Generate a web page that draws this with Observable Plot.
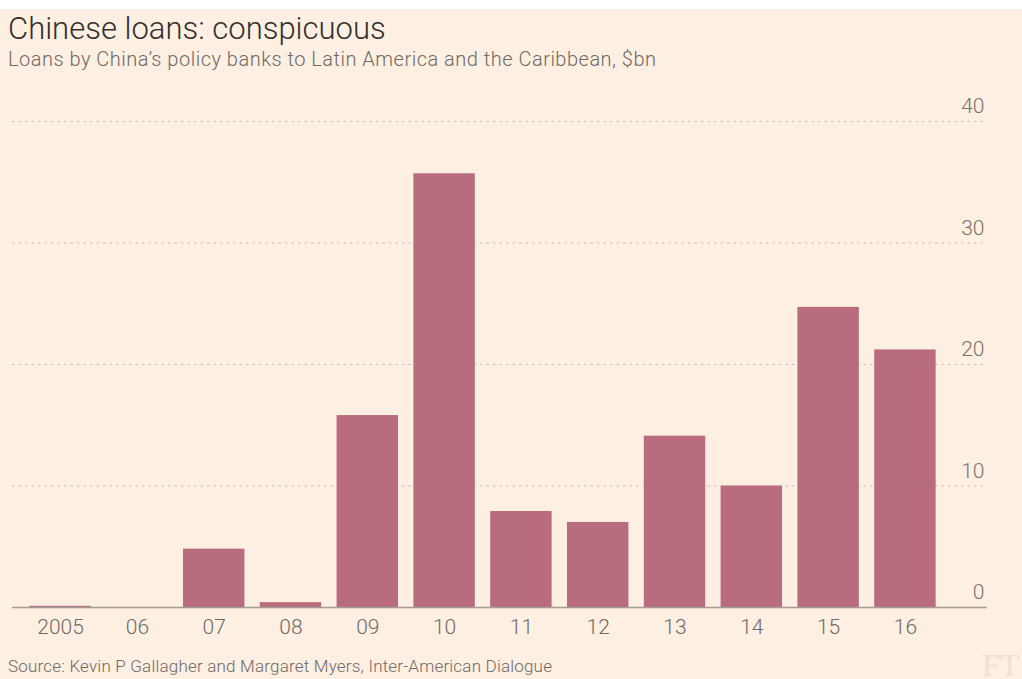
<!DOCTYPE html>
<html>
<head>
<meta charset="utf-8">
<script src="https://cdn.jsdelivr.net/npm/d3@7"></script>
<script src="https://cdn.jsdelivr.net/npm/@observablehq/plot@0.6"></script>
<style>
  html, body { margin: 0; padding: 0; background: #ffffff; }
  body { width: 1022px; height: 679px; position: relative; overflow: hidden; font-family: Roboto, "Liberation Sans", sans-serif; }
  #panel { position: absolute; left: 0; top: 9px; width: 1022px; height: 670px; background: #fdefe1; }
  #title { position: absolute; left: 8px; top: 1px; font-size: 31px; font-weight: 300; color: #33302e; white-space: nowrap; letter-spacing: 0px; }
  #subtitle { position: absolute; left: 8px; top: 38px; font-size: 20px; font-weight: 300; color: #6f6a66; white-space: nowrap; letter-spacing: 0.5px; }
  #chart { position: absolute; left: 0; top: 91px; }
  #source { position: absolute; left: 8px; top: 647px; font-size: 17px; font-weight: 300; color: #6f6a66; white-space: nowrap; letter-spacing: 0.2px; }
  #logo { position: absolute; left: 982px; top: 640px; font-family: "Liberation Serif", "DejaVu Serif", serif; font-size: 32px; line-height: 32px; color: #ece1d4; white-space: nowrap; }
</style>
</head>
<body>
<div id="panel">
  <div id="title">Chinese loans: conspicuous</div>
  <div id="subtitle">Loans by China’s policy banks to Latin America and the Caribbean, $bn</div>
  <div id="chart"></div>
  <div id="source">Source: Kevin P Gallagher and Margaret Myers, Inter-American Dialogue</div>
  <div id="logo">FT</div>
</div>
<script>
const years = ["2005", "2006", "2007", "2008", "2009", "2010", "2011", "2012", "2013", "2014", "2015", "2016"];
const yearLabels = ["2005", "06", "07", "08", "09", "10", "11", "12", "13", "14", "15", "16"];
const loans = [0.1, 0, 4.8, 0.4, 15.8, 35.7, 7.9, 7.0, 14.1, 10.0, 24.7, 21.2];
const yTicks = [0, 10, 20, 30, 40];
const gridTicks = [10, 20, 30, 40];

const data = years.map((y, i) => ({year: y, value: loans[i]}));
const labelOf = new Map(years.map((y, i) => [y, yearLabels[i]]));

const W = 1022, H = 540;
const chart = Plot.plot({
  width: W,
  height: H,
  marginTop: 21,
  marginBottom: 33,
  marginLeft: 12,
  marginRight: 35,
  style: {background: "transparent", fontFamily: "Roboto, sans-serif", fontWeight: 300, overflow: "visible"},
  x: {domain: years, range: [14, 951], paddingInner: 0.2, paddingOuter: 0.2, round: false, label: null},
  y: {domain: [0, 40], label: null},
  marks: [
    Plot.ruleY(gridTicks, {stroke: "#c9c0b6", strokeWidth: 1.2, strokeDasharray: "2.5,4"}),
    Plot.barY(data, {x: "year", y: "value", fill: "#b96c7e"}),
    Plot.ruleY([0], {stroke: "#a59d95", strokeWidth: 1.6}),
    Plot.axisX({tickSize: 0, tickPadding: 12, tickFormat: d => labelOf.get(d), fontSize: 21, fill: "#6f6a66", label: null}),
    Plot.axisY(yTicks, {anchor: "right", tickSize: 0, tickPadding: 0, textAnchor: "end", dx: -3, dy: -15, fontSize: 21, fill: "#78736e", label: null})
  ]
});
document.getElementById("chart").appendChild(chart);
</script>
</body>
</html>
